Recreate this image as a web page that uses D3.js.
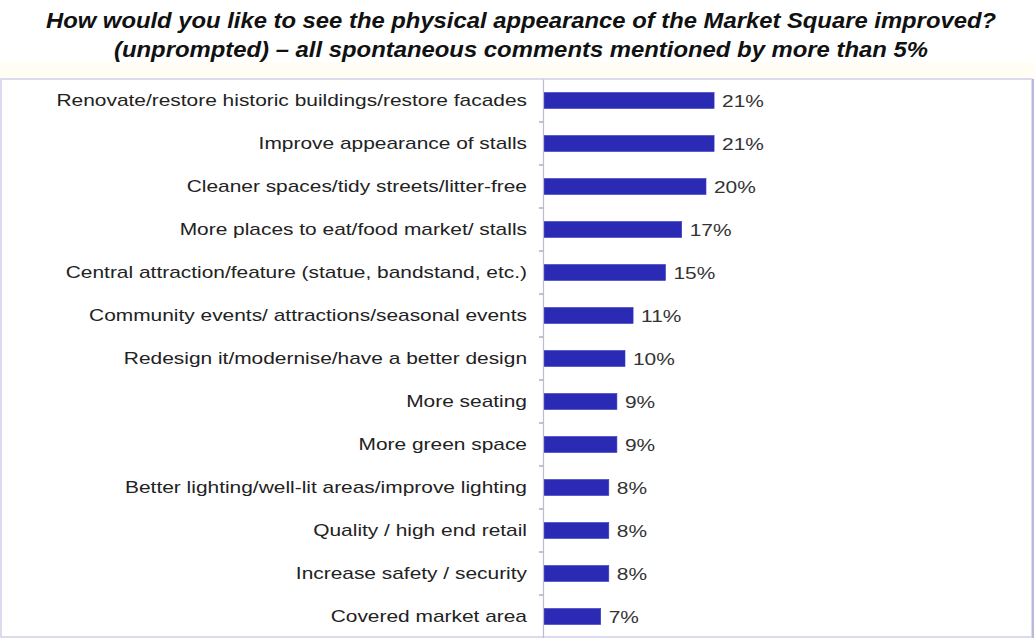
<!DOCTYPE html>
<html>
<head>
<meta charset="utf-8">
<script src="https://cdn.jsdelivr.net/npm/d3@7"></script>
<style>
  html, body { margin: 0; padding: 0; background: #fff; }
  svg { display: block; }
</style>
</head>
<body>
<svg id="chart" width="1035" height="638"></svg>
<script>
// Spontaneous comments, percentage of respondents
const categories = [
  "Renovate/restore historic buildings/restore facades",
  "Improve appearance of stalls",
  "Cleaner spaces/tidy streets/litter-free",
  "More places to eat/food market/ stalls",
  "Central attraction/feature (statue, bandstand, etc.)",
  "Community events/ attractions/seasonal events",
  "Redesign it/modernise/have a better design",
  "More seating",
  "More green space",
  "Better lighting/well-lit areas/improve lighting",
  "Quality / high end retail",
  "Increase safety / security",
  "Covered market area"
];
const values = [21, 21, 20, 17, 15, 11, 10, 9, 9, 8, 8, 8, 7];
const titleLines = [
  "How would you like to see the physical appearance of the Market Square improved?",
  "(unprompted) \u2013 all spontaneous comments mentioned by more than 5%"
];

const svg = d3.select("#chart");
const W = 1035, H = 638;
const frame = { left: 1, top: 79, right: 1032, bottom: 637 };
const axisX = 543;
const textFont = "'Liberation Sans', Arial, sans-serif";
const stretch = 1.23; // wide lettering for labels

// faint tint band above the frame
svg.append("rect")
  .attr("x", 0).attr("y", 62).attr("width", W).attr("height", 17)
  .attr("fill", "#fffdf4");

// frame
svg.append("rect")
  .attr("x", frame.left).attr("y", frame.top)
  .attr("width", frame.right - frame.left).attr("height", frame.bottom - frame.top)
  .attr("fill", "#fff").attr("stroke", "#cfcfe8").attr("stroke-width", 1.5);
svg.append("line")
  .attr("x1", frame.right + 1).attr("x2", frame.right + 1)
  .attr("y1", frame.top).attr("y2", H)
  .attr("stroke", "#b9b9e0").attr("stroke-width", 2);

// title
const titleWidths = [950, 814];
svg.selectAll("text.title")
  .data(titleLines)
  .join("text")
  .attr("class", "title")
  .attr("x", 521)
  .attr("y", (d, i) => 28 + i * 29)
  .attr("text-anchor", "middle")
  .attr("font-family", textFont)
  .attr("font-weight", "bold")
  .attr("font-style", "italic")
  .attr("font-size", 22)
  .attr("fill", "#111")
  .attr("textLength", (d, i) => titleWidths[i])
  .attr("lengthAdjust", "spacingAndGlyphs")
  .text(d => d);

// scales
const x = d3.scaleLinear().domain([0, 60]).range([axisX, axisX + 486]);
const y = d3.scaleBand().domain(categories).range([79, 638]).paddingInner(0).paddingOuter(0);
const barH = 16;

// bars
svg.append("g")
  .selectAll("rect")
  .data(values)
  .join("rect")
  .attr("x", x(0) + 1)
  .attr("y", (d, i) => y(categories[i]) + y.bandwidth() / 2 - barH / 2)
  .attr("width", d => x(d) - x(0))
  .attr("height", barH)
  .attr("fill", "#2a2ab4")
  .attr("stroke", "#3a3ac8")
  .attr("stroke-width", 0.6);

// value labels
svg.append("g")
  .selectAll("text")
  .data(values)
  .join("text")
  .attr("transform", (d, i) =>
    `translate(${x(d) + 9},${y(categories[i]) + y.bandwidth() / 2}) scale(${stretch},1)`)
  .attr("dy", "0.36em")
  .attr("font-family", textFont)
  .attr("font-size", 17)
  .attr("fill", "#333")
  .text(d => d + "%");

// category axis
const axis = d3.axisLeft(y).tickSize(0).tickPadding(0);
const gAxis = svg.append("g")
  .attr("transform", `translate(${axisX},0)`)
  .call(axis);
gAxis.select(".domain").attr("stroke", "#b8bcd8").attr("stroke-width", 1.2);
gAxis.selectAll(".tick text")
  .attr("x", 0)
  .attr("transform", `translate(-16,0) scale(${stretch},1)`)
  .attr("font-family", textFont)
  .attr("font-size", 17)
  .attr("fill", "#222");

// small tick marks between categories
svg.append("g")
  .selectAll("line")
  .data(categories.slice(1))
  .join("line")
  .attr("x1", axisX - 4).attr("x2", axisX)
  .attr("y1", d => y(d)).attr("y2", d => y(d))
  .attr("stroke", "#888").attr("stroke-width", 1);
</script>
</body>
</html>
